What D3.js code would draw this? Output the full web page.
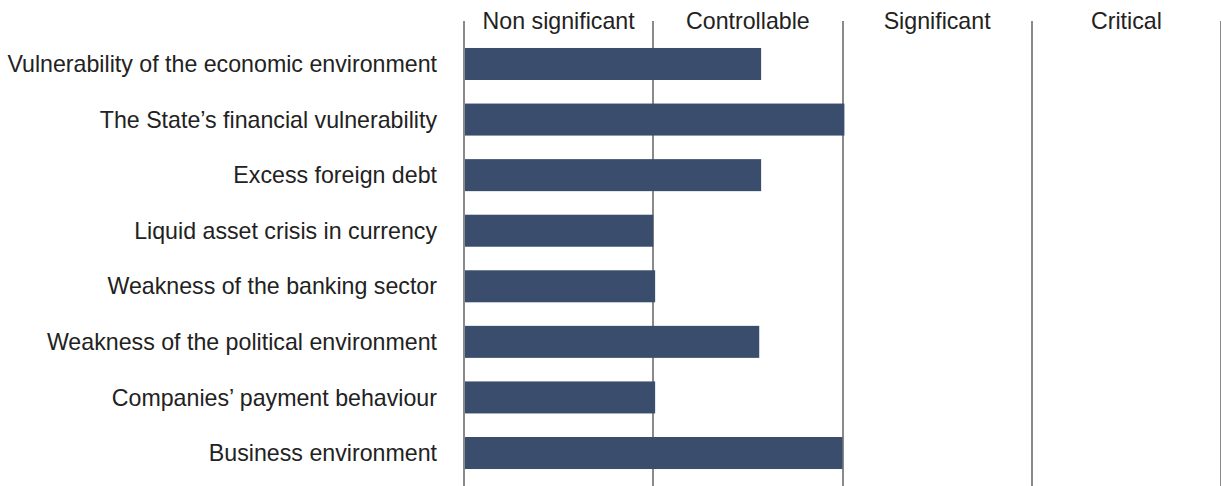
<!DOCTYPE html>
<html>
<head>
<meta charset="utf-8">
<script src="https://cdn.jsdelivr.net/npm/d3@7"></script>
<style>
  html, body { margin: 0; padding: 0; background: #fff; }
  svg { display: block; }
  text { font-family: "Liberation Sans", Arial, Helvetica, sans-serif; fill: #222; }
</style>
</head>
<body>
<svg id="chart" width="1221" height="486"></svg>
<script>
// Risk factors and their assessed level (0 = none, 4 = top of "Critical")
const categories = [
  "Vulnerability of the economic environment",
  "The State\u2019s financial vulnerability",
  "Excess foreign debt",
  "Liquid asset crisis in currency",
  "Weakness of the banking sector",
  "Weakness of the political environment",
  "Companies\u2019 payment behaviour",
  "Business environment"
];
const values = [1.57, 2.01, 1.57, 1.0, 1.01, 1.56, 1.01, 2.0];

// Qualitative risk bands shown along the top
const levelLabels = ["Non significant", "Controllable", "Significant", "Critical"];
const levelTicks = [0, 1, 2, 3, 4];

const width = 1221, height = 486;
const svg = d3.select("#chart");

const x = d3.scaleLinear().domain([0, 4]).range([464, 1221]);
const y = d3.scaleBand()
  .domain(categories)
  .range([36.2, 480.8])
  .paddingInner(0.424)
  .paddingOuter(0.212);

// Vertical separators between the risk levels
svg.append("g").selectAll("line")
  .data(levelTicks)
  .join("line")
  .attr("x1", d => Math.round(x(d)))
  .attr("x2", d => Math.round(x(d)))
  .attr("y1", 21)
  .attr("y2", height)
  .attr("stroke", "#8a8a8a")
  .attr("stroke-width", 2);

// Level names centred in each band
svg.append("g").selectAll("text")
  .data(levelLabels)
  .join("text")
  .attr("x", (d, i) => (x(i) + x(i + 1)) / 2)
  .attr("y", 28.5)
  .attr("text-anchor", "middle")
  .attr("font-size", 23.2)
  .text(d => d);

// Bars
svg.append("g").selectAll("rect")
  .data(values)
  .join("rect")
  .attr("x", x(0) + 1)
  .attr("y", (d, i) => y(categories[i]))
  .attr("width", d => x(d) - x(0) - 1)
  .attr("height", y.bandwidth())
  .attr("fill", "#3a4d6d");

// Category labels
svg.append("g").selectAll("text")
  .data(categories)
  .join("text")
  .attr("x", 437)
  .attr("y", d => y(d) + y.bandwidth() / 2)
  .attr("dy", "0.35em")
  .attr("text-anchor", "end")
  .attr("font-size", 23.2)
  .text(d => d);
</script>
</body>
</html>
